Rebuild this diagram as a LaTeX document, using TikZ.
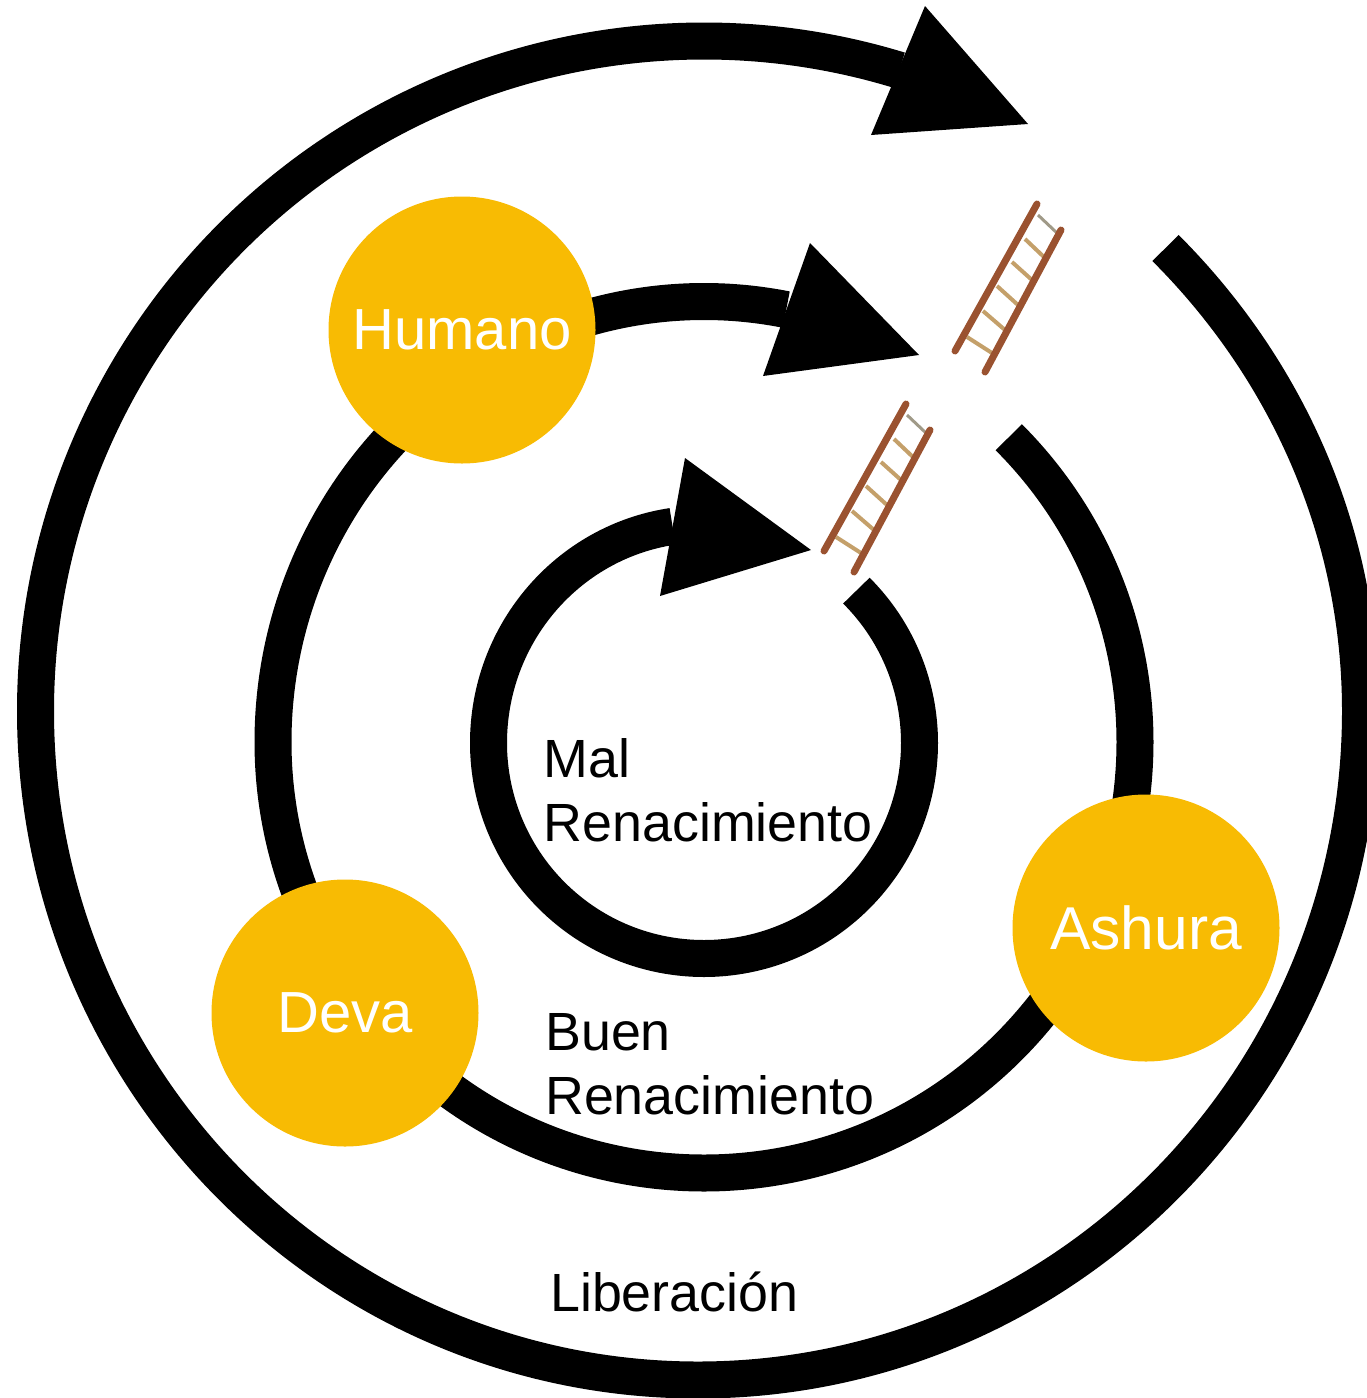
\documentclass[tikz,border=0pt]{standalone}
\usepackage{fontspec}
\setmainfont{Liberation Sans}
\definecolor{gold}{HTML}{F8BB03}
\definecolor{wood}{HTML}{9A5230}
\definecolor{rung}{HTML}{C4A06A}
\definecolor{toprung}{HTML}{A09A88}
\tikzset{x=1pt,y=-1pt,
 ring/.style={line width=37pt,black,line cap=butt},
 head/.style={fill=black,draw=none},
 realm/.style={circle,fill=gold,draw=none,minimum size=267pt,inner sep=0pt,text=white,font=\fontsize{58}{58}\selectfont},
 lab/.style={anchor=north west,align=left,inner sep=0pt,text=black,font=\fontsize{53.8}{64}\selectfont},
 rail/.style={wood,line width=7pt,line cap=round},
 rungl/.style={rung,line width=4pt},
 toprungl/.style={toprung,line width=3pt},
 ladder/.pic={
  \draw[toprungl] (1038,215)--(1057,233);
  \draw[rungl] (1025,239)--(1045,258) (1012,262)--(1032,280) (997,286)--(1018,305) (983,311)--(1005,330) (967,337)--(992,353);
  \draw[rail] (1037,204)--(955,351);
  \draw[rail] (1061,230)--(985,372);
 }}
\begin{document}
\begin{tikzpicture}
\useasboundingbox (0,0) rectangle (1367,1398);
% rings
\coordinate (outerend) at (1165.5,248);
\coordinate (outerright) at (1360.5,711);
\draw[ring] (outerend) .. controls (1289.5,372) and (1360.5,536) .. (outerright)
  arc[start angle=0,end angle=180,x radius=662.5,y radius=669]
  arc[start angle=180,end angle=287,x radius=668.5,y radius=670];
\draw[ring] (704,742) ++(-45:431) arc[start angle=-45,end angle=180,radius=431]
  arc[start angle=180,end angle=281,x radius=431,y radius=440.5];
\draw[ring] (704,743) ++(-45:215.5) arc[start angle=-45,end angle=180,radius=215.5]
  arc[start angle=180,end angle=261.6,x radius=215.5,y radius=219];
% arrowheads
\fill[head] (925,6)--(1028,124)--(871,135)--cycle;
\fill[head] (810,243)--(919,355)--(763,376)--cycle;
\fill[head] (685,458)--(811,550)--(660,596)--cycle;
% ladders
\pic at (0,0) {ladder};
\pic at (-131,200) {ladder};
% realms
\node[realm] (humano) at (462,330) {\raisebox{-1pt}{Humano}};
\node[realm] (deva) at (345,1013) {\raisebox{-2pt}{Deva}};
\node[realm,font=\fontsize{60.5}{60}\selectfont] (ashura) at (1146,928) {Ashura};
% labels
\node[lab] (mal) at (543.5,738) {Mal\\Renacimiento};
\node[lab] (buen) at (545,1013.5) {Buen\\Renacimiento};
\node[lab] (lib) at (550,1272) {Liberación};
\end{tikzpicture}
\end{document}
